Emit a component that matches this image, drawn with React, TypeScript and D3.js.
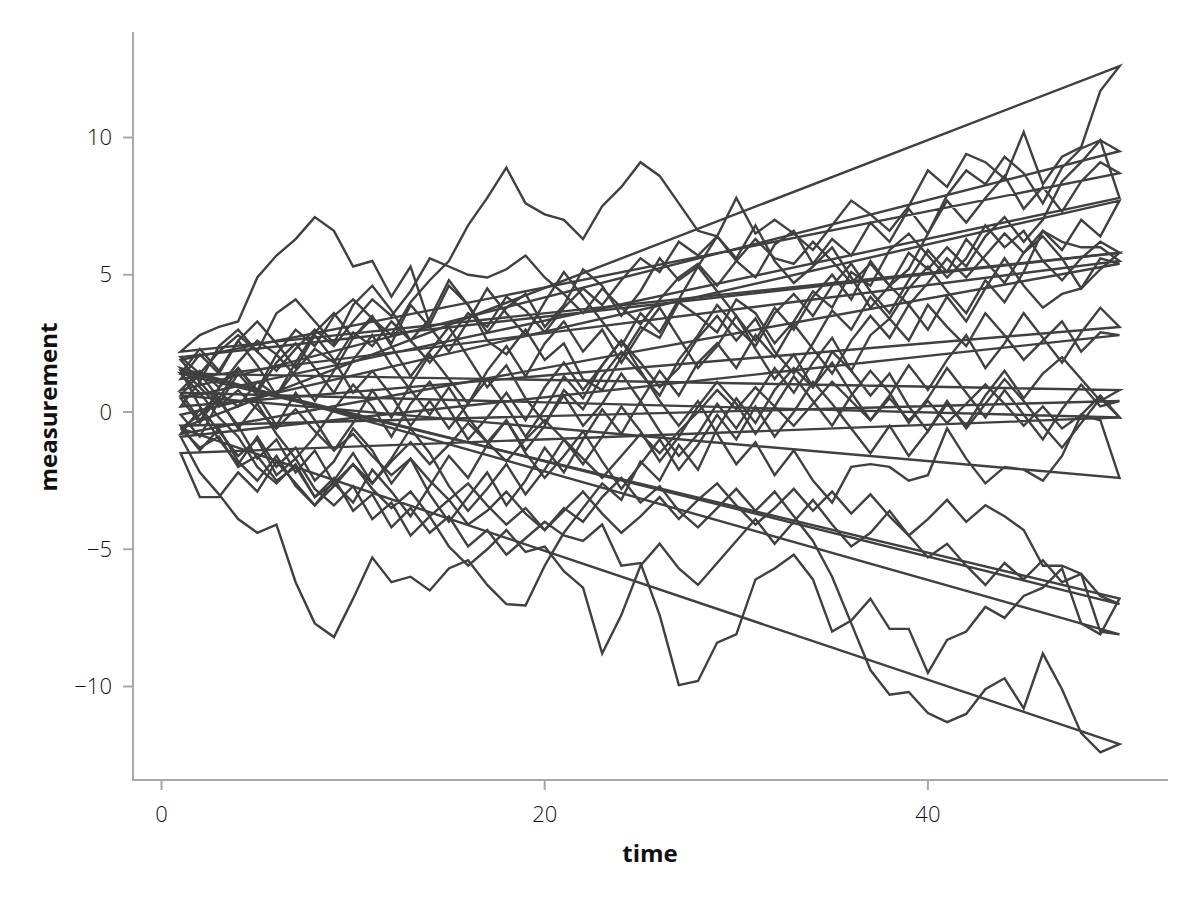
import React from "react";
import * as d3 from "d3";

const time = [1,2,3,4,5,6,7,8,9,10,11,12,13,14,15,16,17,18,19,20,21,22,23,24,25,26,27,28,29,30,31,32,33,34,35,36,37,38,39,40,41,42,43,44,45,46,47,48,49,50];

const walk01 = [-0.6,-0.1,0.7,0.2,1.1,0.6,1.5,2.3,1.8,2.9, 2.4,3.3,2.6,1.8,2.7,3.6,3.1,4.2,3.7,2.9, 3.8,4.5,3.9,4.8,5.6,5.1,6.2,5.7,6.4,7.8, 6.5,7.0,6.5,5.9,6.8,7.7,7.2,6.6,7.5,8.8, 8.2,9.4,9.1,8.5,10.2,8.3,9.3,9.65,11.7,12.6];
const walk02 = [2.2,2.8,3.1,3.3,4.9,5.7,6.3,7.1,6.6,5.3, 5.5,4.2,5.3,3.2,4.6,3.9,2.6,2.1,3.0,1.9, 2.5,1.2,0.8,2.0,3.1,2.7,4.0,3.5,2.9,4.1, 3.6,2.5,3.3,4.4,3.8,5.1,4.6,5.9,6.5,5.7, 4.9,5.6,6.8,6.0,6.6,5.5,4.8,5.6,6.2,5.8];
const walk03 = [0.8,1.5,0.9,1.8,2.6,2.1,3.0,2.4,3.5,4.1, 3.4,2.8,4.0,4.8,5.5,6.8,7.8,8.9,7.6,7.2, 7.0,6.3,7.5,8.2,9.1,8.6,7.6,6.6,6.4,5.6, 6.8,5.5,4.7,5.3,6.0,4.9,3.8,4.6,5.2,6.5, 7.9,8.8,8.3,9.3,8.7,7.6,8.9,9.6,9.9,9.5];
const walk04 = [-0.9,-2.2,-3.0,-3.9,-4.4,-4.1,-6.2,-7.7,-8.2,-6.8, -5.3,-6.2,-6.0,-6.5,-5.7,-5.4,-6.3,-7.0,-7.05,-5.6, -4.4,-3.5,-2.6,-3.2,-1.8,-2.5,-1.2,-2.1,-0.6,0.5, -0.4,0.8,1.6,0.9,2.2,1.5,2.8,3.4,2.6,3.9, 3.1,2.4,3.6,2.8,1.9,2.6,3.3,2.2,2.9,2.8];
const walk05 = [1.4,0.7,-0.2,-0.9,-2.0,-2.6,-1.9,-3.1,-2.4,-3.6, -3.0,-4.2,-3.5,-4.4,-3.8,-4.9,-4.3,-5.2,-4.6,-4.0, -4.5,-4.7,-4.1,-5.6,-5.5,-7.4,-9.95,-9.8,-8.4,-8.1, -6.1,-5.7,-5.2,-6.1,-8.0,-7.6,-6.8,-7.9,-7.9,-9.5, -8.3,-8.0,-7.1,-7.5,-6.7,-6.4,-5.7,-7.7,-8.1,-6.8];
const walk06 = [1.5,0.2,-0.7,-1.6,-1.0,-2.3,-1.7,-2.8,-3.4,-2.7, -3.9,-3.3,-4.5,-3.8,-4.9,-5.6,-5.0,-4.3,-5.1,-4.9, -5.8,-6.4,-8.8,-7.4,-5.6,-4.8,-5.7,-6.3,-5.5,-4.7, -3.9,-4.8,-4.0,-3.2,-4.1,-4.9,-4.4,-3.6,-4.5,-5.3, -4.8,-5.6,-6.3,-5.5,-6.1,-5.4,-6.2,-5.9,-6.7,-7.0];
const walk07 = [-0.6,-1.3,-0.9,-2.0,-1.6,-2.5,-2.0,-3.1,-2.6,-1.9, -2.8,-3.5,-2.9,-3.8,-3.2,-4.1,-3.6,-2.9,-3.7,-4.3, -3.5,-4.0,-3.1,-2.4,-3.3,-2.7,-3.6,-4.2,-3.5,-2.8, -3.6,-2.9,-3.8,-4.7,-6.0,-7.7,-9.4,-10.3,-10.2,-10.97, -11.3,-11.0,-10.1,-9.7,-10.8,-8.8,-10.1,-11.7,-12.4,-12.1];
const walk08 = [0.6,1.4,0.5,-0.6,0.3,-0.8,-1.7,-0.9,0.1,1.0, 0.2,-0.9,0.3,1.1,0.1,-1.0,-0.2,0.7,-0.3,0.9, 1.8,0.8,1.7,2.6,1.5,0.4,-0.5,0.4,-0.8,-1.9, -1.1,-2.3,-1.4,-2.5,-3.3,-2.0,-1.9,-2.0,-2.5,-2.3, -0.6,-1.7,-2.6,-2.0,-2.1,-2.5,-1.6,-0.1,-0.3,-2.4];
const walk09 = [1.9,1.1,2.4,3.0,2.2,3.6,4.1,3.3,2.5,3.9, 4.6,3.7,2.6,3.4,4.8,3.9,2.9,3.8,4.3,3.1, 3.9,5.2,4.6,3.5,4.4,5.6,4.8,5.3,6.4,5.5, 4.9,6.1,6.6,5.4,6.3,5.7,6.9,6.2,7.4,6.5, 7.7,6.9,7.8,8.6,7.4,8.2,7.3,8.4,9.1,8.7];
const walk10 = [-0.1,-0.9,0.4,-0.5,-1.7,-1.0,-2.2,-1.4,-2.6,-3.3, -2.1,-2.9,-3.8,-2.7,-1.6,-2.4,-1.2,-0.3,-1.4,-0.5, 0.8,0.1,1.3,2.2,1.4,0.6,1.9,2.8,3.9,3.1, 2.4,3.6,4.3,3.5,4.6,5.4,4.4,3.6,4.8,5.9, 5.1,6.3,5.5,4.7,5.8,6.6,5.9,7.0,6.4,7.7];
const walk11 = [0.5,-0.4,0.9,1.6,0.8,2.1,1.3,0.4,1.5,2.7, 3.4,2.5,3.9,3.1,2.2,3.3,4.5,3.6,2.8,4.0, 5.1,4.2,3.3,2.4,3.6,2.9,4.1,5.3,4.4,3.5, 2.6,3.8,3.0,4.2,5.0,4.1,5.5,4.6,5.8,5.2, 6.0,5.3,6.4,7.1,6.2,7.0,8.4,9.1,9.9,7.8];
const walk12 = [1.2,2.1,1.4,2.6,3.3,2.5,1.6,2.8,1.9,0.7, 1.5,0.6,-0.5,0.4,-0.6,0.3,1.2,0.2,-0.9,0.1, 1.3,0.5,1.7,2.6,1.8,0.9,1.6,2.7,3.5,2.6, 3.4,2.2,1.4,2.5,3.7,3.0,4.2,3.4,4.5,5.3, 4.4,3.6,4.8,4.0,5.1,6.6,6.2,6.0,6.0,5.5];
const walk13 = [-0.8,0.1,-1.0,-1.9,-0.9,-2.0,-1.3,-2.5,-1.8,-0.6, -1.4,-2.6,-1.7,-3.0,-4.0,-3.1,-2.2,-3.4,-2.5,-1.3, -2.2,-1.0,0.1,-0.8,0.4,1.5,0.6,1.8,2.5,1.6, 2.8,2.0,3.2,2.3,1.4,2.6,3.5,2.7,3.9,3.0, 4.2,3.3,4.5,5.6,4.6,3.8,4.3,4.5,5.6,5.4];
const walk14 = [0.2,1.1,0.3,1.4,0.6,-0.5,0.7,-0.3,-1.4,-0.4, 0.8,-0.2,1.0,2.1,1.2,0.3,1.5,2.4,1.3,2.5, 3.3,2.2,3.0,1.8,2.9,3.8,2.7,1.6,2.4,3.5, 2.3,1.2,2.1,0.9,1.8,0.7,-0.3,0.6,1.7,0.8, 1.9,2.8,1.6,2.5,3.6,2.7,1.8,2.9,3.8,3.1];
const walk15 = [1.4,2.3,1.5,2.6,1.7,0.6,1.8,2.9,3.6,2.7, 3.5,2.4,1.3,2.2,3.1,2.0,0.9,1.7,0.5,-0.4, 0.6,-0.5,0.3,1.4,0.4,-0.7,-1.6,-0.8,0.3,-0.6, 0.5,1.6,0.7,1.8,2.7,1.5,0.6,1.4,0.2,-0.7, 0.3,-0.5,0.6,1.5,0.5,1.4,2.0,1.2,0.4,0.8];
const walk16 = [-0.5,-1.4,-0.6,-1.8,-2.5,-1.6,-2.7,-3.4,-2.5,-1.5, -2.6,-1.7,-0.6,-1.5,-2.7,-3.6,-2.8,-1.9,-3.0,-2.1, -1.0,-1.9,-0.9,0.2,-0.7,-1.8,-0.9,0.2,1.1,0.3, -0.8,0.2,1.3,0.4,-0.5,0.6,1.5,0.7,-0.4,0.5, 1.6,0.7,-0.2,0.8,-0.1,-1.0,0.1,1.0,0.2,0.4];
const walk17 = [0.7,-0.3,0.5,1.6,0.7,1.8,2.5,1.6,0.7,1.9, 2.8,1.7,0.8,-0.1,0.9,-0.2,-1.1,-0.3,-1.5,-2.4, -1.6,-0.7,-1.8,-2.8,-1.9,-1.0,-2.1,-1.2,-0.1,-1.0, 0.2,-0.9,0.0,1.1,0.3,-0.6,-1.5,-0.5,-1.6,-0.7, 0.4,-0.6,0.3,1.2,0.4,-0.5,-1.3,-0.4,0.5,-0.2];
const walk18 = [1.6,0.9,0.2,0.8,0.1,-0.6,0.1,-0.7,-1.4,-0.8, -1.6,-2.3,-1.7,-2.5,-3.2,-2.6,-3.4,-4.1,-3.5,-4.3, -3.6,-2.9,-3.7,-4.4,-3.8,-3.1,-3.9,-3.2,-2.6,-3.4, -4.1,-3.5,-2.8,-3.6,-2.9,-3.7,-3.0,-3.8,-4.5,-3.9, -3.2,-4.0,-3.4,-3.8,-4.3,-5.6,-5.6,-5.9,-8.0,-8.1];
const walk19 = [2.0,1.4,2.2,2.8,2.2,1.5,2.3,3.0,2.4,3.3, 4.1,3.5,4.4,5.6,5.3,5.0,4.9,5.2,5.7,4.9, 4.3,3.6,4.5,3.8,3.2,4.1,4.9,5.4,4.6,5.5, 6.3,5.6,5.4,6.2,5.5,4.7,5.4,4.6,3.9,4.7, 5.6,4.9,5.7,6.5,5.8,6.4,5.6,4.5,5.2,5.8];
const walk20 = [-1.5,-3.1,-3.1,-2.2,-2.9,-1.8,-2.6,-3.4,-2.7,-1.9, -2.6,-1.8,-1.1,-1.9,-1.2,-0.4,-1.1,-1.8,-1.0,-0.3, -1.0,-1.7,-2.4,-1.6,-0.8,-1.5,-0.7,0.0,0.8,0.1, 0.9,0.2,-0.5,0.3,1.1,0.4,-0.3,0.5,-0.3,0.4, -0.4,0.3,1.0,0.3,-0.5,0.2,-0.6,-0.1,0.6,-0.2];

const walks = [walk01, walk02, walk03, walk04, walk05, walk06, walk07, walk08, walk09, walk10,
  walk11, walk12, walk13, walk14, walk15, walk16, walk17, walk18, walk19, walk20];

const xTicks = [0, 20, 40];
const yTicks = [-10, -5, 0, 5, 10];

const W = 1200;
const H = 900;

export default function App() {
  const x = d3.scaleLinear().domain([0, 50]).range([161.5, 1119.5]);
  const y = d3.scaleLinear().domain([-10, 10]).range([686.5, 137.5]);
  const axisLeft = 133;
  const axisBottom = 780;
  const line = d3.line<number>()
    .x((_, i) => x(time[i]))
    .y((d) => y(d));
  const axisColor = "#a8a8a8";
  const tickFont = "'Open Sans', 'Noto Sans', sans-serif";
  return (
    <svg width={W} height={H} style={{ position: "absolute", left: 0, top: 0, background: "#fff" }}>
      <g>
        {walks.map((w, i) => (
          <path key={i} d={(line(w) || "") + "Z"} fill="none" stroke="#404040" strokeWidth={2.4} />
        ))}
      </g>
      <line x1={axisLeft} x2={axisLeft} y1={32} y2={axisBottom + 1} stroke={axisColor} strokeWidth={2} />
      <line x1={axisLeft - 1} x2={1168} y1={axisBottom} y2={axisBottom} stroke={axisColor} strokeWidth={2} />
      {yTicks.map((t) => (
        <g key={"y" + t}>
          <line x1={axisLeft - 10} x2={axisLeft} y1={y(t)} y2={y(t)} stroke={axisColor} strokeWidth={2} />
          <text x={112} y={y(t)} dy="0.35em" textAnchor="end" fontFamily={tickFont} fontWeight={300} fontSize={22} fill="#111">
            {t < 0 ? "\u2212" + Math.abs(t) : String(t)}
          </text>
        </g>
      ))}
      {xTicks.map((t) => (
        <g key={"x" + t}>
          <line x1={x(t)} x2={x(t)} y1={axisBottom} y2={axisBottom + 10} stroke={axisColor} strokeWidth={2} />
          <text x={x(t)} y={822} textAnchor="middle" fontFamily={tickFont} fontWeight={300} fontSize={22} fill="#111">
            {String(t)}
          </text>
        </g>
      ))}
      <text x={650} y={862} textAnchor="middle" fontFamily={tickFont} fontWeight={700} fontSize={24} fill="#111">time</text>
      <text transform="translate(57,407) rotate(-90)" textAnchor="middle" fontFamily={tickFont} fontWeight={700} fontSize={24} fill="#111">measurement</text>
    </svg>
  );
}
